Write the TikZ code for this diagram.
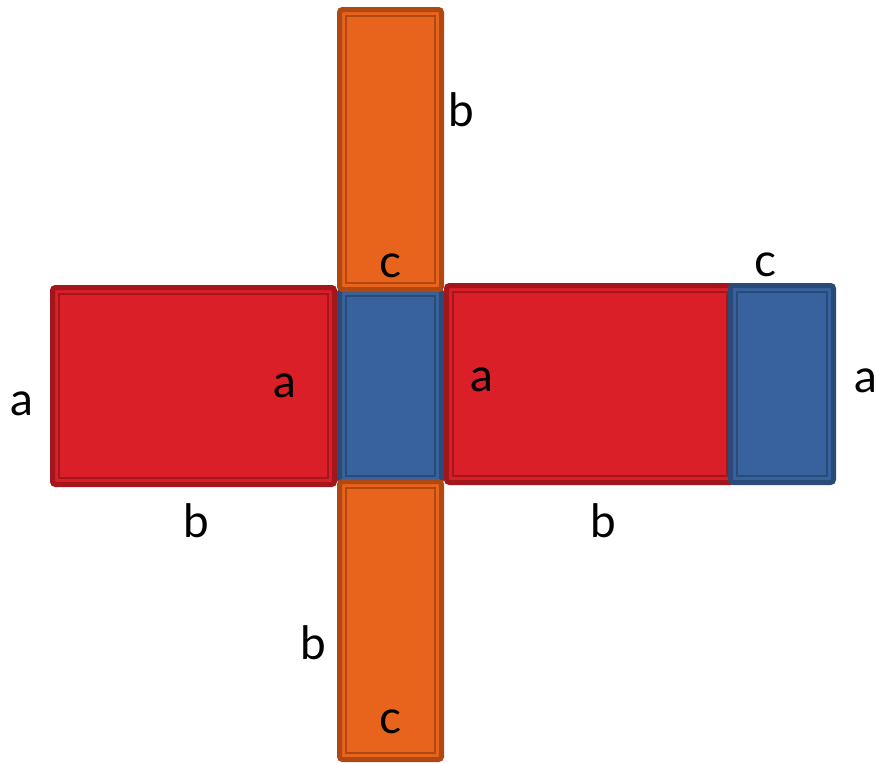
\documentclass[tikz,border=0pt]{standalone}
\usepackage{fontspec}
\setmainfont{Lato}
\usepackage{xcolor}
\usepackage{tikz}
\usetikzlibrary{positioning}

\definecolor{redfill}{HTML}{DA1F28}
\definecolor{redline}{HTML}{A3161C}
\definecolor{orangefill}{HTML}{E8641C}
\definecolor{orangeline}{HTML}{B04812}
\definecolor{bluefill}{HTML}{38629D}
\definecolor{blueline}{HTML}{2A4B78}

\begin{document}
\begin{tikzpicture}[
x=1pt, y=-1pt,
face/.style 2 args={
    rectangle, draw=#2, fill=#1,
    line width=5pt,
    rounded corners=3pt,
    inner sep=0pt,
    path picture={
        \draw[#2, line width=1.6pt, sharp corners]
            ([shift={(6.5pt,-6.5pt)}]path picture bounding box.north west)
            rectangle
            ([shift={(-6.5pt,6.5pt)}]path picture bounding box.south east);
    }
},
lbl/.style={
    inner sep=0pt,
    font=\fontsize{46}{48}\selectfont
}
]
\useasboundingbox (0,0) rectangle (876,763);

% faces of the net
\node[face={redfill}{redline}, minimum width=282pt, minimum height=197pt] (leftred) at (193.5,386) {};
\node[face={bluefill}{blueline}, minimum width=102pt, minimum height=193pt] (midblue) at (390.5,386) {};
\node[face={redfill}{redline}, minimum width=287pt, minimum height=197pt] (rightred) at (590,384) {};
\node[face={bluefill}{blueline}, minimum width=103pt, minimum height=197pt] (rightblue) at (782,384) {};
\node[face={orangefill}{orangeline}, minimum width=102pt, minimum height=280pt] (toporange) at (390.5,149.5) {};
\node[face={orangefill}{orangeline}, minimum width=102pt, minimum height=278pt] (botorange) at (390.5,620.5) {};

% edge labels
\node[lbl] (btop) at (461,110) {b};
\node[lbl] (ctop) at (390,266) {c};
\node[lbl] (cright) at (765,265) {c};
\node[lbl] (aleft) at (22,404) {a};
\node[lbl] (ainl) at (285,386) {a};
\node[lbl] (ainr) at (482,380) {a};
\node[lbl] (aright) at (866,381) {a};
\node[lbl] (bleft) at (196,521) {b};
\node[lbl] (bright) at (603,521) {b};
\node[lbl] (bbot) at (313,643) {b};
\node[lbl] (cbot) at (390,722) {c};

\end{tikzpicture}
\end{document}
